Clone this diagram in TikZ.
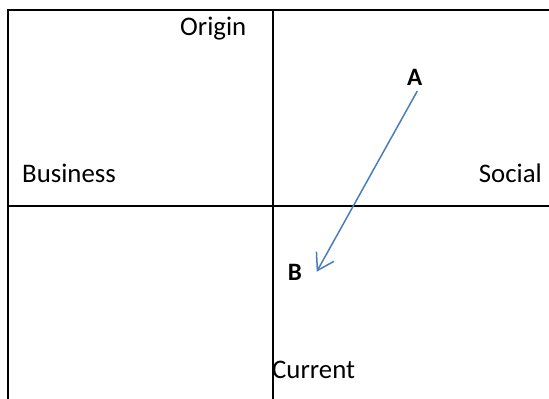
\documentclass[tikz,border=0pt]{standalone}
\usepackage{fontspec}
\setmainfont{Carlito}
\usepackage{xcolor}
\usepackage{tikz}
\usetikzlibrary{arrows.meta}
\definecolor{excelblue}{HTML}{4A7EBB}
\tikzset{
  axis/.style={line width=2pt, draw=black},
  lbl/.style={font=\fontsize{26.8}{32}\selectfont, inner sep=0pt},
  pt/.style={lbl, font=\fontsize{25}{30}\selectfont\bfseries, inner sep=0pt},
  move/.style={-{Straight Barb[length=16pt, width=20pt, line width=1.5pt]}, line width=1.5pt, draw=excelblue},
}
\begin{document}
\begin{tikzpicture}[x=1pt, y=-1pt]
        \useasboundingbox (0,0) rectangle (549,399);
        % frame and quadrants
        \draw[axis] (8,399) -- (8,10) -- (549,10);
        \draw[axis] (273,10) -- (273,399);
        \draw[axis] (8,206) -- (549,206);
        % axis labels
        \node[lbl, anchor=base west] (origin) at (180,35) {Origin};
        \node[lbl, anchor=base west] (business) at (22,182) {Business};
        \node[lbl, anchor=base east] (social) at (542,182) {Social};
        \node[lbl, anchor=base west] (current) at (272,378) {Current};
        % movement from A to B
        \node[pt] (A) at (414.7,77.5) {A};
        \node[pt] (B) at (295,272.5) {B};
        \coordinate (tail) at (417.3,91);
        \coordinate (head) at (316.7,271.7);
        \draw[move] (tail) -- (head);
      \end{tikzpicture}
\end{document}
